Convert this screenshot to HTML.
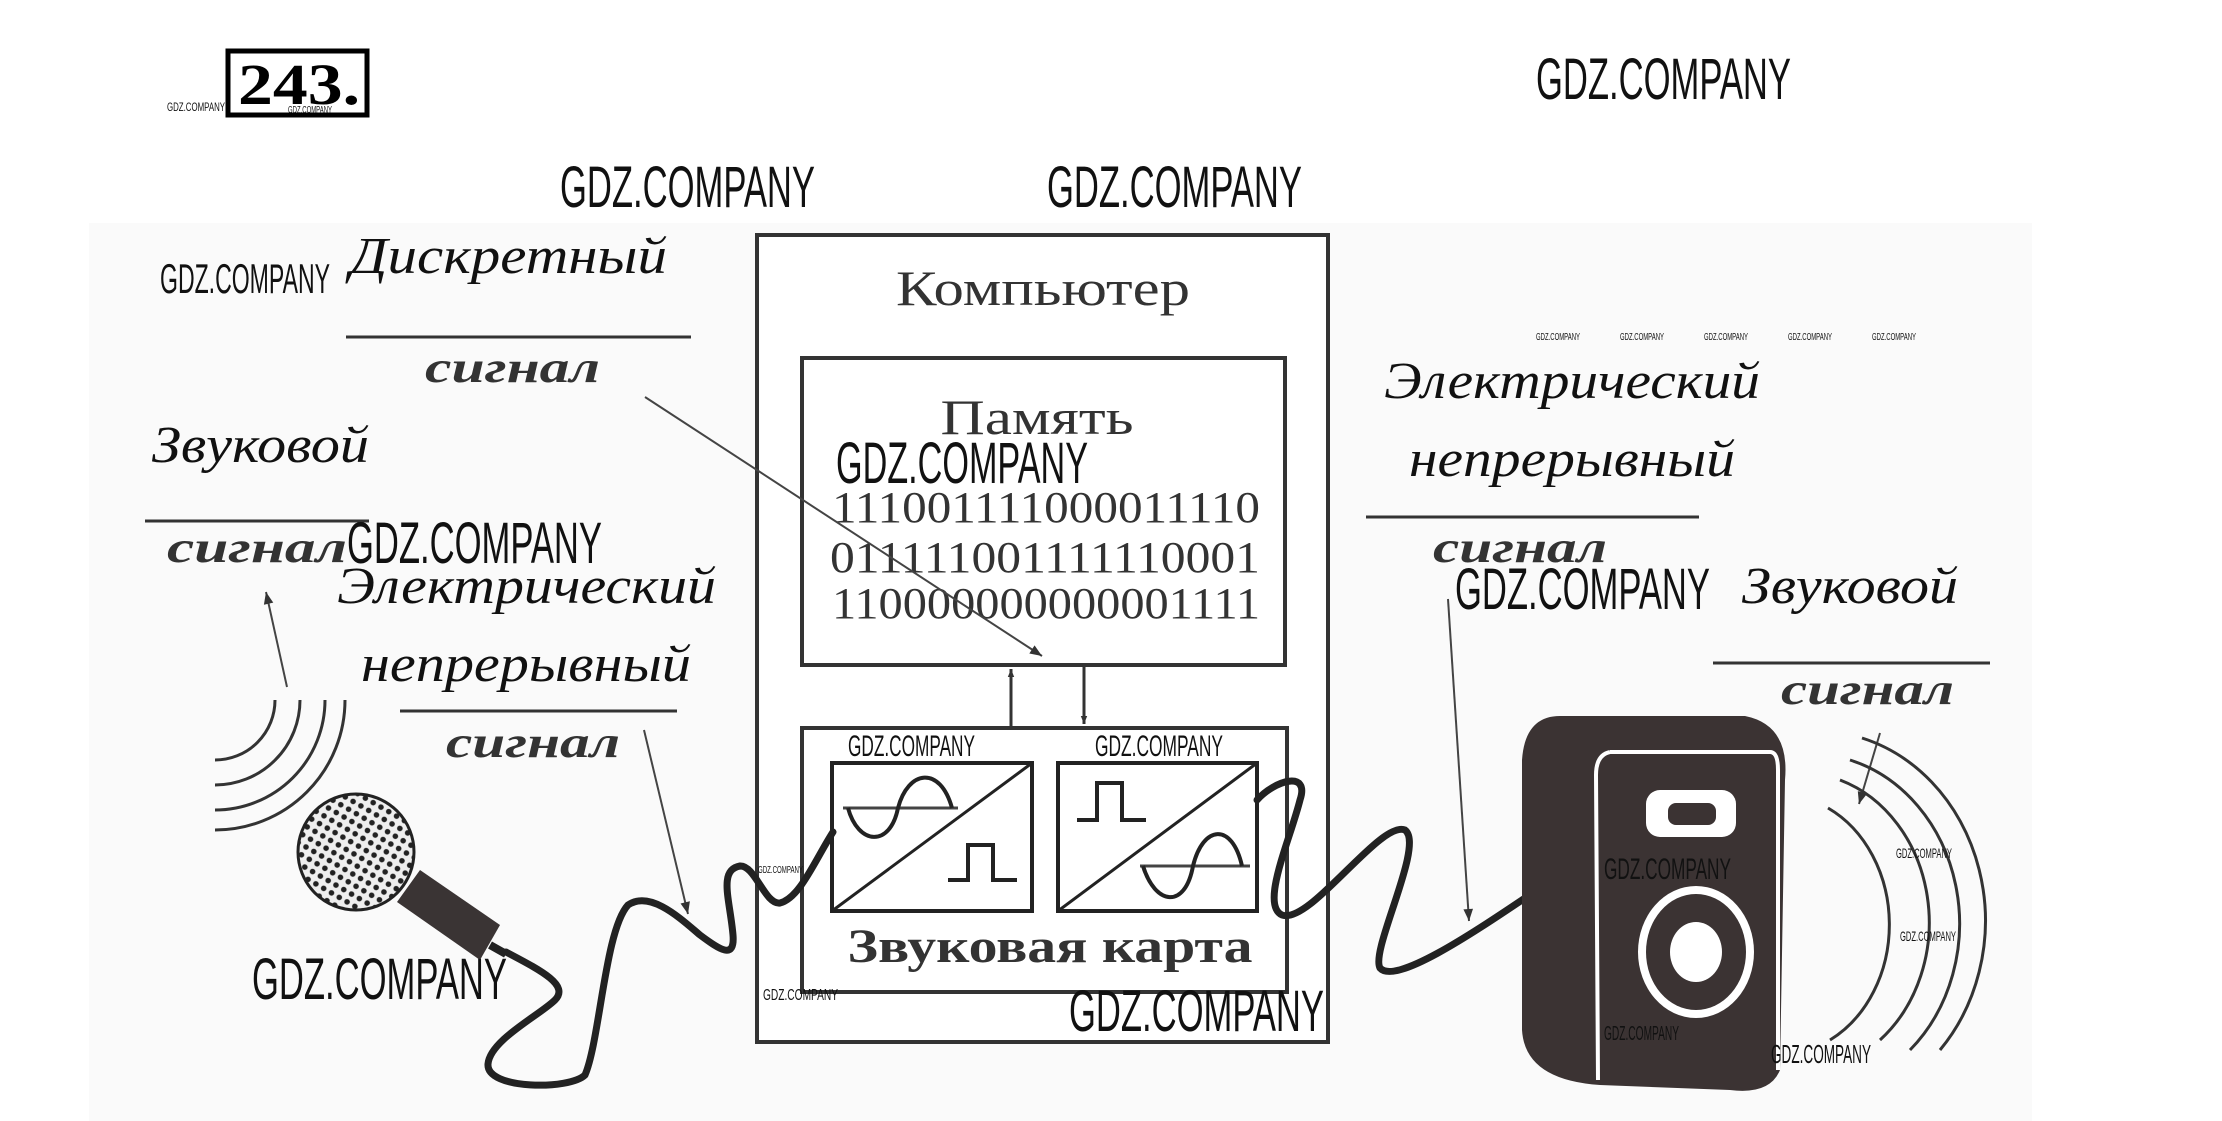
<!DOCTYPE html>
<html><head><meta charset="utf-8"><style>
html,body{margin:0;padding:0;background:#fff;}
svg{display:block}
.wm{font-family:"Liberation Sans",sans-serif;fill:#111;font-weight:normal}
.it{font-family:"Liberation Serif","Noto Serif CJK SC",serif;font-style:italic;fill:#111}
.sg{font-family:"Liberation Serif","Noto Serif CJK SC",serif;font-style:italic;font-weight:bold;fill:#333}
.rm{font-family:"Liberation Serif","Noto Serif CJK SC",serif;fill:#333}
</style></head><body>
<svg width="2222" height="1121" viewBox="0 0 2222 1121" xmlns="http://www.w3.org/2000/svg">
<defs>
<pattern id="grid" width="9" height="9" patternUnits="userSpaceOnUse" patternTransform="rotate(30)">
<rect width="9" height="9" fill="#eee"/><circle cx="4.5" cy="4.5" r="2.8" fill="#222"/></pattern>
<marker id="ah" viewBox="0 0 10 10" refX="10" refY="5" markerWidth="8" markerHeight="8" orient="auto-start-reverse" markerUnits="userSpaceOnUse">
<path d="M0,1 L10,5 L0,9 z" fill="#333"/></marker>
<marker id="ah2" viewBox="0 0 10 10" refX="10" refY="5" markerWidth="18" markerHeight="12" orient="auto" markerUnits="userSpaceOnUse">
<path d="M0,1 L10,5 L0,9 z" fill="#333"/></marker>
</defs>
<rect x="89" y="223" width="1943" height="898" fill="#fafafa"/>

<!-- 243 box -->
<rect x="228" y="51" width="139" height="64" fill="#fff" stroke="#000" stroke-width="5"/>
<text x="238" y="104" font-family="Liberation Serif,serif" font-weight="bold" font-size="58" fill="#000" textLength="122" lengthAdjust="spacingAndGlyphs">243.</text>
<text class="wm" x="167" y="111" font-size="12" textLength="58" lengthAdjust="spacingAndGlyphs">GDZ.COMPANY</text>
<text class="wm" x="288" y="113" font-size="10" textLength="44" lengthAdjust="spacingAndGlyphs">GDZ.COMPANY</text>

<!-- Computer box -->
<rect x="757" y="235" width="571" height="807" fill="#fff" stroke="#333" stroke-width="4"/>
<text class="rm" x="1043" y="305" font-size="50" text-anchor="middle" textLength="294" lengthAdjust="spacingAndGlyphs">Компьютер</text>
<rect x="802" y="358" width="483" height="307" fill="#fff" stroke="#333" stroke-width="4"/>
<text class="rm" x="1037" y="434" font-size="50" text-anchor="middle" textLength="193" lengthAdjust="spacingAndGlyphs">Память</text>
<g class="rm" font-size="44" fill="#444">
<text x="832" y="522" textLength="428" lengthAdjust="spacingAndGlyphs">111001111000011110</text>
<text x="830" y="572" textLength="430" lengthAdjust="spacingAndGlyphs">011111001111110001</text>
<text x="832" y="618" textLength="428" lengthAdjust="spacingAndGlyphs">110000000000001111</text>
</g>
<!-- arrows memory/card -->
<line x1="1011" y1="728" x2="1011" y2="669" stroke="#333" stroke-width="3" marker-end="url(#ah)"/>
<line x1="1084" y1="665" x2="1084" y2="724" stroke="#333" stroke-width="3" marker-end="url(#ah)"/>
<!-- sound card -->
<rect x="802" y="728" width="485" height="264" fill="#fff" stroke="#333" stroke-width="4"/>
<rect x="832" y="763" width="200" height="148" fill="#fff" stroke="#222" stroke-width="4"/>
<line x1="832" y1="911" x2="1032" y2="763" stroke="#222" stroke-width="3"/>
<line x1="843" y1="808" x2="958" y2="808" stroke="#444" stroke-width="3"/>
<path d="M848,808 C858,845 890,848 898,808 C908,770 940,765 952,808" fill="none" stroke="#222" stroke-width="4"/>
<path d="M948,880 H968 V845 H993 V880 H1017" fill="none" stroke="#222" stroke-width="4"/>
<rect x="1058" y="763" width="199" height="148" fill="#fff" stroke="#222" stroke-width="4"/>
<line x1="1058" y1="911" x2="1257" y2="763" stroke="#222" stroke-width="3"/>
<path d="M1077,820 H1097 V783 H1122 V820 H1146" fill="none" stroke="#222" stroke-width="4"/>
<line x1="1140" y1="866" x2="1250" y2="866" stroke="#444" stroke-width="3"/>
<path d="M1143,866 C1155,905 1185,910 1193,866 C1203,825 1232,822 1242,866" fill="none" stroke="#222" stroke-width="4"/>
<text class="rm" x="1050" y="962" font-size="48" font-weight="bold" text-anchor="middle" textLength="405" lengthAdjust="spacingAndGlyphs">Звуковая карта</text>

<!-- Labels left -->
<text class="it" x="350" y="273" font-size="52" textLength="317" lengthAdjust="spacingAndGlyphs">Дискретный</text>
<line x1="346" y1="337" x2="691" y2="337" stroke="#333" stroke-width="3"/>
<text class="sg" x="425" y="382" font-size="44" textLength="175" lengthAdjust="spacingAndGlyphs">сигнал</text>
<line x1="645" y1="397" x2="1042" y2="656" stroke="#444" stroke-width="2" marker-end="url(#ah2)"/>

<text class="it" x="152" y="462" font-size="52" textLength="217" lengthAdjust="spacingAndGlyphs">Звуковой</text>
<line x1="145" y1="521" x2="369" y2="521" stroke="#333" stroke-width="3"/>
<text class="sg" x="167" y="562" font-size="44" textLength="180" lengthAdjust="spacingAndGlyphs">сигнал</text>
<line x1="287" y1="687" x2="266" y2="592" stroke="#444" stroke-width="2" marker-end="url(#ah2)"/>

<text class="it" x="337" y="603" font-size="52" textLength="379" lengthAdjust="spacingAndGlyphs">Электрический</text>
<text class="it" x="361" y="681" font-size="52" textLength="330" lengthAdjust="spacingAndGlyphs">непрерывный</text>
<line x1="400" y1="711" x2="677" y2="711" stroke="#333" stroke-width="3"/>
<text class="sg" x="446" y="757" font-size="44" textLength="174" lengthAdjust="spacingAndGlyphs">сигнал</text>
<line x1="644" y1="730" x2="688" y2="914" stroke="#444" stroke-width="2" marker-end="url(#ah2)"/>

<!-- mic sound arcs -->
<g fill="none" stroke="#333" stroke-width="3">
<path d="M275,700 A60,60 0 0 1 215,760"/>
<path d="M300,700 A85,85 0 0 1 215,785"/>
<path d="M325,700 A110,110 0 0 1 215,810"/>
<path d="M345,700 A130,130 0 0 1 215,830"/>
</g>
<!-- mic -->
<path d="M500,925 L420,870 L397,902 L480,960 Z" fill="#3a3434"/>
<line x1="490" y1="945" x2="506" y2="954" stroke="#222" stroke-width="8"/>
<circle cx="356" cy="852" r="58" fill="url(#grid)" stroke="#222" stroke-width="3"/>
<!-- cable left -->
<path d="M506,952 C540,970 570,985 555,1000 C540,1015 490,1040 488,1064 C486,1090 570,1090 585,1075 C600,1040 605,930 628,905 C650,890 680,918 700,935 C720,950 735,960 733,935 C730,900 718,870 740,866 C755,865 765,905 780,903 C800,898 815,860 833,832" fill="none" stroke="#222" stroke-width="7" stroke-linecap="round"/>

<!-- right labels -->
<text class="it" x="1384" y="398" font-size="52" textLength="376" lengthAdjust="spacingAndGlyphs">Электрический</text>
<text class="it" x="1409" y="476" font-size="52" textLength="326" lengthAdjust="spacingAndGlyphs">непрерывный</text>
<line x1="1366" y1="517" x2="1699" y2="517" stroke="#333" stroke-width="3"/>
<text class="sg" x="1433" y="562" font-size="44" textLength="174" lengthAdjust="spacingAndGlyphs" fill="#777">сигнал</text>
<line x1="1448" y1="599" x2="1469" y2="921" stroke="#444" stroke-width="2" marker-end="url(#ah2)"/>
<text class="it" x="1742" y="603" font-size="52" textLength="216" lengthAdjust="spacingAndGlyphs">Звуковой</text>
<line x1="1713" y1="663" x2="1990" y2="663" stroke="#333" stroke-width="3"/>
<text class="sg" x="1781" y="704" font-size="44" textLength="173" lengthAdjust="spacingAndGlyphs">сигнал</text>
<line x1="1880" y1="733" x2="1859" y2="804" stroke="#444" stroke-width="2" marker-end="url(#ah2)"/>

<!-- cable right -->
<path d="M1257,800 C1275,780 1310,770 1300,800 C1290,840 1260,905 1282,915 C1310,925 1380,820 1405,830 C1425,845 1370,950 1380,968 C1395,985 1470,935 1525,898" fill="none" stroke="#222" stroke-width="7" stroke-linecap="round"/>

<!-- speaker -->
<path d="M1560,716 L1745,716 Q1790,725 1785,780 L1780,1070 Q1770,1095 1730,1090 L1600,1085 Q1525,1080 1522,1030 L1522,760 Q1525,716 1560,716 Z" fill="#3b3333"/>
<path d="M1610,752 L1770,752 Q1778,752 1778,770 L1778,1070" fill="none" stroke="#fff" stroke-width="4"/>
<path d="M1610,752 Q1596,755 1596,775 L1598,1080" fill="none" stroke="#fff" stroke-width="4"/>
<rect x="1646" y="790" width="90" height="47" rx="14" fill="#fff"/>
<rect x="1668" y="803" width="48" height="22" rx="8" fill="#3b3333"/>
<ellipse cx="1696" cy="952" rx="58" ry="66" fill="#fff"/>
<ellipse cx="1696" cy="952" rx="50" ry="58" fill="#3b3333"/>
<ellipse cx="1696" cy="952" rx="26" ry="30" fill="#fff"/>
<!-- speaker arcs -->
<g fill="none" stroke="#333" stroke-width="3">
<path d="M1828,808 A110,130 0 0 1 1830,1040"/>
<path d="M1840,780 A130,150 0 0 1 1880,1040"/>
<path d="M1850,760 A150,170 0 0 1 1910,1050"/>
<path d="M1862,738 A170,190 0 0 1 1940,1050"/>
</g>

<!-- watermarks -->
<g class="wm">
<text x="1536" y="99" font-size="58" textLength="255" lengthAdjust="spacingAndGlyphs">GDZ.COMPANY</text>
<text x="560" y="207" font-size="58" textLength="255" lengthAdjust="spacingAndGlyphs">GDZ.COMPANY</text>
<text x="1047" y="207" font-size="58" textLength="255" lengthAdjust="spacingAndGlyphs">GDZ.COMPANY</text>
<text x="160" y="293" font-size="42" textLength="170" lengthAdjust="spacingAndGlyphs">GDZ.COMPANY</text>
<text x="836" y="483" font-size="58" textLength="252" lengthAdjust="spacingAndGlyphs">GDZ.COMPANY</text>
<text x="347" y="563" font-size="58" textLength="255" lengthAdjust="spacingAndGlyphs">GDZ.COMPANY</text>
<text x="252" y="999" font-size="58" textLength="255" lengthAdjust="spacingAndGlyphs">GDZ.COMPANY</text>
<text x="848" y="756" font-size="30" textLength="127" lengthAdjust="spacingAndGlyphs">GDZ.COMPANY</text>
<text x="1095" y="756" font-size="30" textLength="128" lengthAdjust="spacingAndGlyphs">GDZ.COMPANY</text>
<text x="1069" y="1031" font-size="58" textLength="255" lengthAdjust="spacingAndGlyphs">GDZ.COMPANY</text>
<text x="1455" y="609" font-size="58" textLength="255" lengthAdjust="spacingAndGlyphs">GDZ.COMPANY</text>
<text x="1604" y="879" font-size="30" textLength="127" lengthAdjust="spacingAndGlyphs">GDZ.COMPANY</text>
<text x="1604" y="1040" font-size="20" textLength="75" lengthAdjust="spacingAndGlyphs">GDZ.COMPANY</text>
<text x="1771" y="1063" font-size="26" textLength="100" lengthAdjust="spacingAndGlyphs">GDZ.COMPANY</text>
<text x="1896" y="858" font-size="14" textLength="56" lengthAdjust="spacingAndGlyphs">GDZ.COMPANY</text>
<text x="1900" y="941" font-size="14" textLength="56" lengthAdjust="spacingAndGlyphs">GDZ.COMPANY</text>
<text x="763" y="1000" font-size="16" textLength="75" lengthAdjust="spacingAndGlyphs">GDZ.COMPANY</text>
<text x="758" y="873" font-size="10" textLength="45" lengthAdjust="spacingAndGlyphs">GDZ.COMPANY</text>
<text x="1536" y="340" font-size="10" textLength="44" lengthAdjust="spacingAndGlyphs">GDZ.COMPANY</text>
<text x="1620" y="340" font-size="10" textLength="44" lengthAdjust="spacingAndGlyphs">GDZ.COMPANY</text>
<text x="1704" y="340" font-size="10" textLength="44" lengthAdjust="spacingAndGlyphs">GDZ.COMPANY</text>
<text x="1788" y="340" font-size="10" textLength="44" lengthAdjust="spacingAndGlyphs">GDZ.COMPANY</text>
<text x="1872" y="340" font-size="10" textLength="44" lengthAdjust="spacingAndGlyphs">GDZ.COMPANY</text>
</g>
</svg>
</body></html>
